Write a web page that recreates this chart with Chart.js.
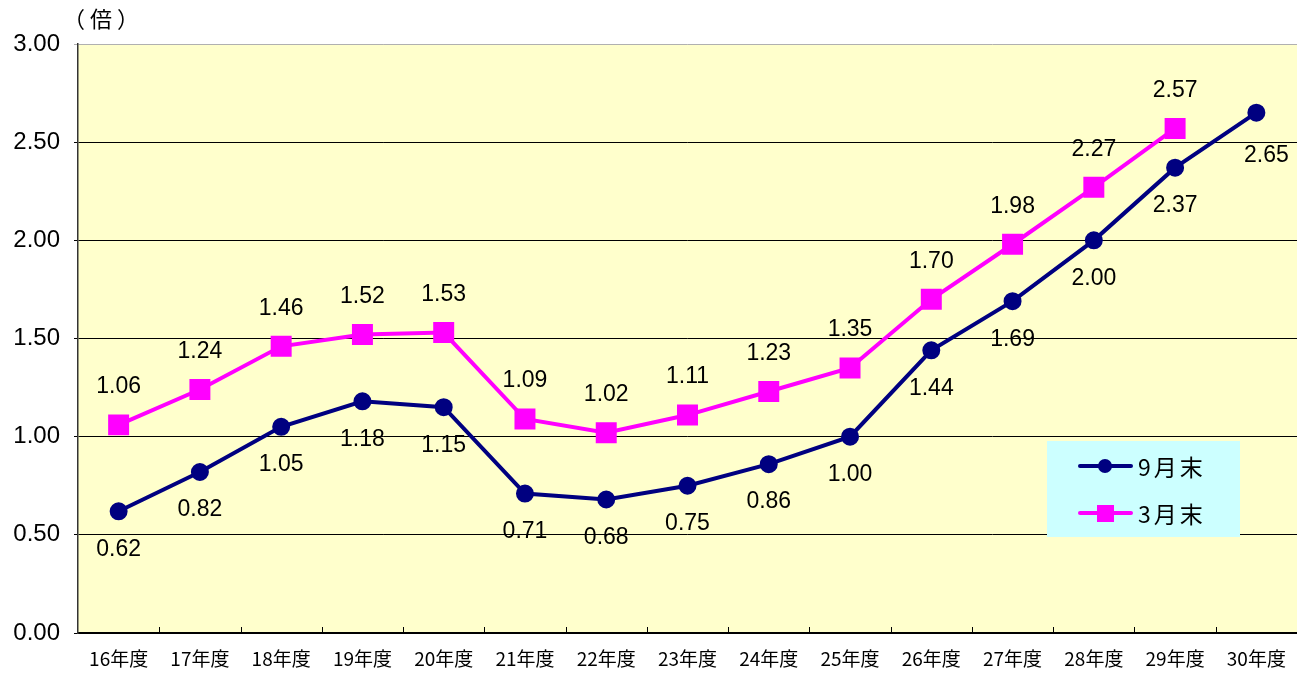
<!DOCTYPE html>
<html>
<head>
<meta charset="utf-8">
<script src="https://cdn.jsdelivr.net/npm/chart.js@4/dist/chart.umd.min.js"></script>
<style>
	html, body { margin: 0; padding: 0; background: #fff; overflow: hidden; }
	#wrap { width: 1297px; height: 674px; position: relative; }
</style>
</head>
<body>
<div id="wrap"><canvas id="c"></canvas></div>
<script>
let categories = ['16年度', '17年度', '18年度', '19年度', '20年度', '21年度', '22年度', '23年度', '24年度', '25年度', '26年度', '27年度', '28年度', '29年度', '30年度'];
let septValues = [0.62, 0.82, 1.05, 1.18, 1.15, 0.71, 0.68, 0.75, 0.86, 1.00, 1.44, 1.69, 2.00, 2.37, 2.65];
let marchValues = [1.06, 1.24, 1.46, 1.52, 1.53, 1.09, 1.02, 1.11, 1.23, 1.35, 1.70, 1.98, 2.27, 2.57, null];
let seriesNames = ['9月末', '3月末'];
let yTicks = [0, 0.5, 1, 1.5, 2, 2.5, 3];
let unitLabel = '（倍）';

let numFont = '"Liberation Sans", Arial, sans-serif';
let cjkFont = '"Noto Sans CJK JP", "Noto Sans", sans-serif';

// background, small inward x ticks, unit label
let decorPlugin = {
	id: 'decor',
	beforeDraw(chart) {
		let {ctx, chartArea: a} = chart;
		ctx.save();
		ctx.fillStyle = '#FFFFCC';
		ctx.fillRect(a.left, a.top, a.right - a.left, a.bottom - a.top);
		ctx.restore();
	},
	afterDraw(chart) {
		let {ctx, chartArea: a, scales} = chart;
		let x = scales.x;
		let step = x.getPixelForValue(1) - x.getPixelForValue(0);
		ctx.save();
		ctx.strokeStyle = '#000';
		ctx.lineWidth = 1;
		ctx.beginPath();
		for (let i = 1; i < categories.length; i++) {
			let px = Math.round(x.getPixelForValue(i) - step / 2) + 0.5;
			ctx.moveTo(px, a.bottom);
			ctx.lineTo(px, a.bottom - 6);
		}
		ctx.stroke();
		ctx.fillStyle = '#000';
		ctx.font = '22px ' + cjkFont;
		ctx.letterSpacing = '5px';
		ctx.textAlign = 'left';
		ctx.textBaseline = 'middle';
		ctx.fillText(unitLabel, 63, 19);
		ctx.restore();
	}
};

// value labels: first series below, second above
let labelPlugin = {
	id: 'valueLabels',
	afterDatasetsDraw(chart) {
		let {ctx} = chart;
		ctx.save();
		ctx.font = '23px ' + numFont;
		ctx.fillStyle = '#000';
		ctx.textAlign = 'center';
		ctx.textBaseline = 'middle';
		chart.data.datasets.forEach((ds, di) => {
			let meta = chart.getDatasetMeta(di);
			meta.data.forEach((pt, i) => {
				let v = ds.data[i];
				if (v === null || v === undefined) return;
				let dx = 0;
				let dy = di === 0 ? 38 : -38;
				if (di === 0 && i === ds.data.length - 1) { dx = 10; dy = 43; }
				ctx.fillText(v.toFixed(2), pt.x + dx, pt.y + dy);
			});
		});
		ctx.restore();
	}
};

// legend box inside the plot
let legendPlugin = {
	id: 'boxLegend',
	afterDraw(chart) {
		let {ctx} = chart;
		let bx = 1047, by = 441, bw = 193, bh = 96;
		ctx.save();
		ctx.fillStyle = '#CCFFFF';
		ctx.fillRect(bx, by, bw, bh);
		chart.data.datasets.forEach((ds, i) => {
			let y = by + 25 + i * 47;
			ctx.strokeStyle = ds.borderColor;
			ctx.lineWidth = 4;
			ctx.lineCap = 'round';
			ctx.beginPath();
			ctx.moveTo(1080, y);
			ctx.lineTo(1131, y);
			ctx.stroke();
			ctx.fillStyle = ds.borderColor;
			if (ds.pointStyle === 'rect') {
				ctx.fillRect(1097, y - 8, 17, 17);
			} else {
				ctx.beginPath();
				ctx.arc(1105, y, 7, 0, Math.PI * 2);
				ctx.fill();
			}
			ctx.fillStyle = '#000';
			ctx.font = '23px ' + cjkFont;
			ctx.letterSpacing = '3px';
			ctx.textAlign = 'left';
			ctx.textBaseline = 'middle';
			ctx.fillText(ds.label, 1138, y + 1);
			ctx.letterSpacing = '0px';
		});
		ctx.restore();
	}
};

let ctx = document.getElementById('c').getContext('2d');
new Chart(ctx, {
	type: 'line',
	data: {
		labels: categories,
		datasets: [
			{
				label: seriesNames[0],
				data: septValues,
				borderColor: '#000080',
				backgroundColor: '#000080',
				borderWidth: 4,
				pointStyle: 'circle',
				pointRadius: 7,
				pointHoverRadius: 7,
				tension: 0
			},
			{
				label: seriesNames[1],
				data: marchValues,
				borderColor: '#FF00FF',
				backgroundColor: '#FF00FF',
				borderWidth: 4,
				pointStyle: 'rect',
				pointRadius: 12,
				pointHoverRadius: 12,
				tension: 0
			}
		]
	},
	options: {
		responsive: true,
		maintainAspectRatio: false,
		animation: false,
		events: [],
		layout: {autoPadding: false, padding: {top: 44, right: 0, left: 0, bottom: 0}},
		plugins: {
			legend: {display: false},
			tooltip: {enabled: false}
		},
		scales: {
			x: {
				offset: true,
				grid: {display: false, drawTicks: false},
				border: {display: true, color: '#000', width: 2},
				ticks: {
					color: '#000',
					font: {family: cjkFont, size: 19},
					padding: 14,
					maxRotation: 0,
					autoSkip: false
				},
				afterFit(scale) {
					scale.height = 41;
					scale.paddingLeft = 0;
					scale.paddingRight = 0;
				}
			},
			y: {
				min: 0,
				max: 3,
				afterBuildTicks(scale) {
					scale.ticks = yTicks.map(v => ({value: v}));
				},
				grid: {
					color: ctx => ctx.tick.value === 3 ? '#B0B0B0' : '#000',
					lineWidth: 1,
					drawTicks: true,
					tickLength: 4
				},
				border: {display: true, color: '#333', width: 1.5},
				ticks: {
					color: '#000',
					font: {family: numFont, size: 24},
					padding: 14,
					callback: v => Number(v).toFixed(2)
				},
				afterFit(scale) {
					scale.width = 78;
					scale.paddingTop = 0;
					scale.paddingBottom = 0;
				}
			}
		}
	},
	plugins: [decorPlugin, labelPlugin, legendPlugin]
});
</script>
</body>
</html>
